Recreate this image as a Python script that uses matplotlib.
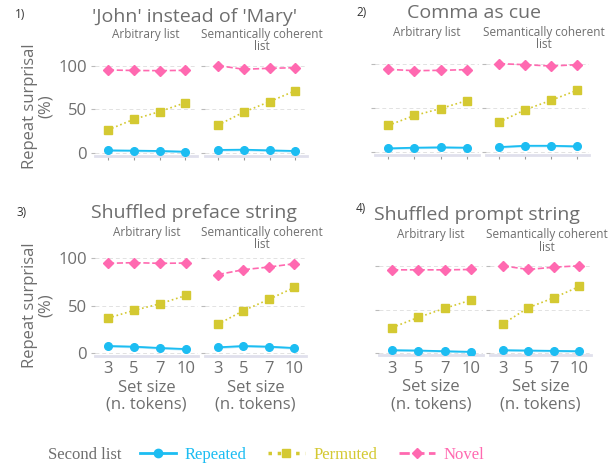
import matplotlib
matplotlib.use('Agg')
import matplotlib.pyplot as plt
from matplotlib.lines import Line2D

plt.rcParams['font.family'] = ['Open Sans', 'DejaVu Sans']

set_sizes = ['3', '5', '7', '10']
titles = ["'John' instead of 'Mary'", "Comma as cue",
          "Shuffled preface string", "Shuffled prompt string"]
list_types = ['Arbitrary list', 'Semantically coherent\nlist']
series_names = ['Repeated', 'Permuted', 'Novel']

# [panel][list type][set size]
repeated = [
    [[3.0, 2.7, 2.3, 1.5], [3.5, 3.8, 3.0, 2.3]],
    [[4.5, 5.3, 5.7, 5.3], [6.0, 7.5, 7.5, 6.8]],
    [[7.4, 6.7, 5.3, 4.2], [6.0, 7.4, 6.7, 5.3]],
    [[2.7, 2.3, 1.5, 0.8], [2.7, 2.3, 1.9, 1.5]],
]
permuted = [
    [[26.5, 38.7, 47.5, 57.8], [32.0, 47.0, 59.0, 71.6]],
    [[30.6, 41.9, 49.8, 58.9], [34.3, 48.3, 59.2, 70.6]],
    [[36.8, 44.9, 51.9, 60.7], [30.2, 44.6, 56.5, 69.1]],
    [[29.0, 40.9, 51.4, 61.0], [33.2, 52.1, 63.7, 76.8]],
]
novel = [
    [[95.4, 94.8, 94.6, 95.0], [100.4, 96.2, 97.3, 98.0]],
    [[94.3, 92.8, 93.2, 94.0], [100.8, 99.6, 98.1, 99.6]],
    [[94.4, 95.1, 94.4, 94.7], [82.5, 87.7, 90.5, 94.0]],
    [[96.1, 96.1, 96.1, 96.5], [100.8, 96.5, 99.2, 100.8]],
]
novel_err = [
    [[1, 1, 1, 1], [4, 1.5, 1.5, 1.5]],
    [[1, 1, 1, 1], [4, 1.5, 1.5, 1.5]],
    [[1, 1, 1, 1], [2, 2.5, 3, 2.5]],
    [[1, 1, 1, 1], [4, 1.5, 1.5, 1.5]],
]
repeated_err = 1.2  # spread of the light band around the repeated line

colors = {'Repeated': '#1cbdf2', 'Permuted': '#d4c932', 'Novel': '#ff69b0'}
styles = {'Repeated': ('-', 'o', 1.3), 'Permuted': (':', 's', 1.2), 'Novel': ('--', 'D', 1.2)}
text_grey = '#6e6e6e'

W, H = 615, 469
fig = plt.figure(figsize=(W / 100, H / 100), dpi=100)


def px_axes(l, r, top, bottom):
    return fig.add_axes([l / W, 1 - bottom / H, (r - l) / W, (bottom - top) / H])


# pixel boxes (left, right, top, bottom) for [panel][list type]
boxes = [
    [(95, 197, 59, 155.6), (205, 307, 59, 155.6)],
    [(375, 479, 57.3, 155), (486, 589, 57.3, 155)],
    [(95, 198, 250.4, 355.9), (205, 306, 250.4, 355.9)],
    [(379, 483, 259.6, 355.1), (490, 591, 259.6, 355.1)],
]
title_pos = [(195, 17), (474, 13), (194, 213), (477, 215)]
num_pos = [(20, 14), (362, 13), (22, 212), (361, 208)]
sub_top = [28, 26, 226, 228]

xs = list(range(len(set_sizes)))
for p in range(4):
    for k in range(2):
        ax = px_axes(*boxes[p][k])
        data = {'Repeated': repeated[p][k], 'Permuted': permuted[p][k], 'Novel': novel[p][k]}
        rep = repeated[p][k]
        ax.fill_between(xs, [v - repeated_err for v in rep], [v + repeated_err for v in rep],
                        color=colors['Repeated'], alpha=0.35, lw=0, zorder=2)
        for name in series_names:
            ls, mk, lw = styles[name]
            ax.plot(xs, data[name], linestyle=ls, marker=mk, color=colors[name],
                    lw=lw, ms=5.5, zorder=3)
        ax.errorbar(xs, novel[p][k], yerr=novel_err[p][k], fmt='none',
                    ecolor=colors['Novel'], elinewidth=1.2, capsize=0, zorder=2)
        ax.set_xlim(-0.5, 3.45)
        ax.set_ylim(-3, 108)
        ax.set_yticks([0, 50, 100])
        ax.set_xticks(xs)
        ax.yaxis.grid(True, linestyle=(0, (4, 3)), color='#e2e2e2', lw=0.7)
        ax.set_axisbelow(True)
        for s in ['top', 'right', 'left']:
            ax.spines[s].set_visible(False)
        ax.spines['bottom'].set_color('#e0e0ec')
        ax.spines['bottom'].set_linewidth(2)
        ax.tick_params(axis='y', length=3, color='#bbbbbb', labelsize=12,
                       labelcolor=text_grey, pad=3)
        ax.tick_params(axis='x', length=3, color='#999999', labelsize=12,
                       labelcolor=text_grey, pad=2)
        if p in (0, 2) and k == 0:
            ax.set_yticklabels(['0', '50', '100'])
        else:
            ax.set_yticklabels([])
        if p >= 2:
            ax.set_xticklabels(set_sizes)
            ax.tick_params(axis='x', length=0, pad=4)
            ax.set_xlabel('Set size\n(n. tokens)', fontsize=12, color=text_grey,
                          labelpad=2, linespacing=1.05)
        else:
            ax.set_xticklabels([])
        l, r, top, bottom = boxes[p][k]
        fig.text(((l + r) / 2 + (6 if k == 1 else 0)) / W, 1 - sub_top[p] / H, list_types[k],
                 ha='center', va='top', fontsize=8.5, color=text_grey, linespacing=0.95)
    fig.text(title_pos[p][0] / W, 1 - title_pos[p][1] / H, titles[p], ha='center',
             va='center', fontsize=14, color=text_grey)
    fig.text(num_pos[p][0] / W, 1 - num_pos[p][1] / H, '%d)' % (p + 1), ha='center',
             va='center', fontsize=8.5, color='#333333')

for yc in (106, 305):
    fig.text(38 / W, 1 - yc / H, 'Repeat surprisal\n(%)', rotation=90, ha='center',
             va='center', fontsize=12, color=text_grey, multialignment='center',
             linespacing=1.0)

serif = {'family': 'Liberation Serif', 'size': 12}
fig.text(48 / W, 1 - 455 / H, 'Second list', ha='left', va='center',
         fontdict=serif, color=text_grey)
handles = []
for name in series_names:
    ls, mk, lw = styles[name]
    handles.append(Line2D([], [], linestyle=ls, marker=mk, color=colors[name],
                          lw=2 if ls != ':' else 2.5, ms=6 if mk != 'D' else 5.5))
fig.legend(handles, series_names, loc='center', bbox_to_anchor=(312 / W, 1 - 455 / H),
           ncol=3, frameon=False, prop=serif, labelcolor='linecolor',
           handlelength=2.2, columnspacing=1.3, handletextpad=0.5)

fig.savefig('out.png', dpi=100)
